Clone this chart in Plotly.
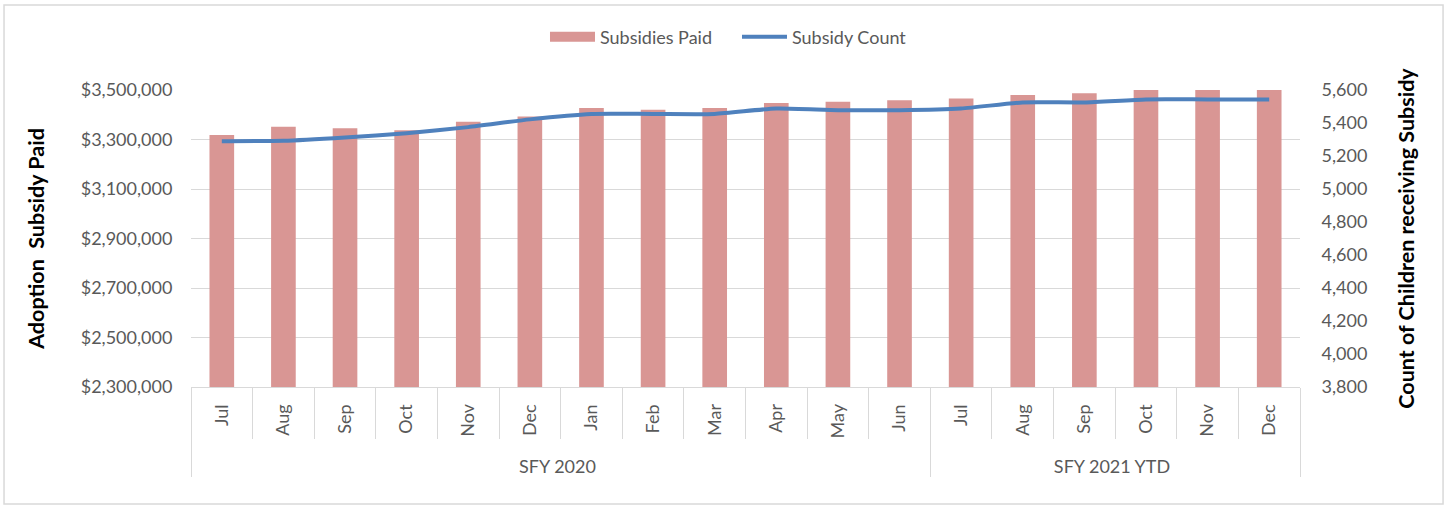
import plotly.graph_objects as go

months = ["Jul", "Aug", "Sep", "Oct", "Nov", "Dec", "Jan", "Feb", "Mar", "Apr", "May", "Jun",
          "Jul", "Aug", "Sep", "Oct", "Nov", "Dec"]
years = ["SFY 2020"] * 12 + ["SFY 2021 YTD"] * 6
subsidies_paid = [3318000, 3352000, 3345000, 3337000, 3372000, 3393000, 3427000, 3420000, 3427000,
                  3447000, 3453000, 3459000, 3466000, 3480000, 3487000, 3510000, 3515000, 3520000]
subsidy_count = [5290, 5292, 5312, 5338, 5375, 5422, 5455, 5455, 5455, 5488, 5478, 5478,
                 5488, 5525, 5525, 5543, 5543, 5543]

left_ticks = [2300000, 2500000, 2700000, 2900000, 3100000, 3300000, 3500000]
right_ticks = list(range(3800, 5601, 200))

FONT = "Lato"
GRAY = "#595959"
PINK = "#d99694"
BLUE = "#4f81bd"
TICK = 18
TITLE = 21.5

# month labels padded so they sit a little lower under the axis line
month_labels = [m + "\u00a0\u00a0" for m in months]
xcat = [years, month_labels]

fig = go.Figure()
fig.add_trace(go.Bar(
    x=xcat, y=subsidies_paid, name="Subsidies Paid", showlegend=False,
    marker=dict(color=PINK, line=dict(width=0)), yaxis="y",
))
# legend proxy giving the wide rectangular swatch used in the original
fig.add_trace(go.Scatter(
    x=[None], y=[None], name="Subsidies Paid", mode="lines",
    line=dict(color=PINK, width=10), xaxis="x2", yaxis="y", hoverinfo="skip",
))
fig.add_trace(go.Scatter(
    x=xcat, y=subsidy_count, name="Subsidy Count", mode="lines",
    line=dict(color=BLUE, width=4, shape="spline", smoothing=0.6), yaxis="y2",
))

fig.update_layout(
    width=1447, height=505,
    margin=dict(l=191, r=147, t=90, b=118),
    paper_bgcolor="white", plot_bgcolor="white",
    font=dict(family=FONT, size=TICK, color=GRAY),
    bargap=0.6,
    showlegend=True,
    legend=dict(orientation="h", x=0.3192, xanchor="left", y=1.178, yanchor="middle",
                font=dict(size=18, color=GRAY), traceorder="normal", itemwidth=45,
                entrywidth=132, entrywidthmode="pixels"),
    xaxis=dict(
        type="multicategory", tickangle=-90, automargin=False,
        showline=True, linecolor="#d9d9d9", linewidth=1,
        ticks="outside", ticklen=51, tickcolor="#d9d9d9",
        showdividers=True, dividercolor="#d9d9d9", dividerwidth=1,
        tickfont=dict(size=TICK, color=GRAY),
        showgrid=False,
    ),
    xaxis2=dict(overlaying="x", visible=False),
    yaxis=dict(
        range=[2300000, 3500000], tickvals=left_ticks, automargin=False,
        ticktext=[f"${v:,}" for v in left_ticks],
        showgrid=True, gridcolor="#d9d9d9", gridwidth=1,
        zeroline=False, showline=False, ticks="outside", ticklen=14, tickcolor="rgba(0,0,0,0)",
        tickfont=dict(size=TICK, color=GRAY),
        title=dict(text="<b>Adoption  Subsidy Paid</b>", font=dict(size=TITLE, color="black", family=FONT),
                   standoff=30),
    ),
    yaxis2=dict(
        range=[3800, 5600], tickvals=right_ticks, automargin=False,
        ticktext=[f"{v:,}" for v in right_ticks],
        overlaying="y", side="right", showgrid=False, zeroline=False, showline=False,
        ticks="outside", ticklen=17, tickcolor="rgba(0,0,0,0)",
        tickfont=dict(size=TICK, color=GRAY),
        title=dict(text="<b>Count of Children receiving Subsidy</b>",
                   font=dict(size=TITLE, color="black", family=FONT), standoff=32),
    ),
    shapes=[dict(type="rect", xref="paper", yref="paper",
                 x0=-0.1686, x1=1.129, y0=-0.394, y1=1.286,
                 line=dict(color="#d9d9d9", width=1.5), layer="below")],
)

fig.write_html("out.html", config={"displayModeBar": False},
               post_script="document.body.style.margin='0';document.body.style.padding='0';")
